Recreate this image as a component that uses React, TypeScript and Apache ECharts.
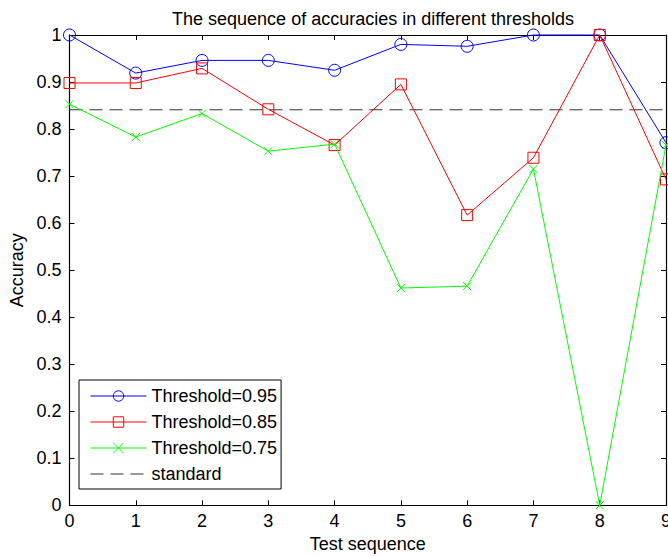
import React, { useEffect, useRef } from "react";
import * as echarts from "echarts";

const testSequence = [0, 1, 2, 3, 4, 5, 6, 7, 8, 9];
const threshold095 = [1.0, 0.919, 0.946, 0.946, 0.925, 0.98, 0.976, 1.0, 1.0, 0.771];
const threshold085 = [0.898, 0.898, 0.929, 0.842, 0.766, 0.895, 0.617, 0.739, 1.0, 0.693];
const threshold075 = [0.853, 0.783, 0.833, 0.753, 0.768, 0.462, 0.466, 0.715, 0.0, 0.766];
const standardValue = 0.841;

const FONT = "'Liberation Sans', Arial, Helvetica, sans-serif";
const FS = 18;

export default function App() {
  const ref = useRef<HTMLDivElement>(null);
  useEffect(() => {
    if (!ref.current) return;
    const chart = echarts.init(ref.current, undefined, { renderer: "svg" });
    const pairs = (ys: number[]) => testSequence.map((x, i) => [x, ys[i]]);
    const lineWidth = 1;
    const axisCommon = {
      axisLine: { show: true, onZero: false, lineStyle: { color: "#000", width: 1.2 } },
      axisTick: { show: true, inside: true, length: 5, lineStyle: { color: "#000" } },
      splitLine: { show: false },
    };
    chart.setOption({
      animation: false,
      backgroundColor: "#fff",
      textStyle: { fontFamily: FONT },
      title: {
        text: "The sequence of accuracies in different thresholds",
        left: 368,
        textAlign: "center",
        top: 5,
        textStyle: { fontFamily: FONT, fontSize: FS, fontWeight: "normal", color: "#000" },
      },
      grid: { left: 69.5, right: 2, top: 35, bottom: 50.7, containLabel: false, outerBoundsMode: "none" },
      legend: {
        orient: "vertical",
        left: 79,
        top: 380,
        itemWidth: 56,
        itemHeight: 13,
        itemGap: 8,
        padding: [7, 4, 6, 11],
        borderColor: "#000",
        borderWidth: 1,
        backgroundColor: "#fff",
        lineStyle: { width: 1 },
        itemStyle: { borderWidth: 1 },
        textStyle: { fontFamily: FONT, fontSize: FS, lineHeight: 18, color: "#000" },
        data: ["Threshold=0.95", "Threshold=0.85", "Threshold=0.75", "standard"],
      },
      xAxis: [
        {
          type: "value",
          min: 0,
          max: 9,
          interval: 1,
          position: "bottom",
          name: "Test sequence",
          nameLocation: "middle",
          nameGap: 30,
          nameTextStyle: { fontFamily: FONT, fontSize: FS, color: "#000" },
          axisLabel: { color: "#000", fontSize: FS, fontFamily: FONT, margin: 7 },
          ...axisCommon,
        },
        {
          type: "value",
          min: 0,
          max: 9,
          interval: 1,
          position: "top",
          axisLabel: { show: false },
          ...axisCommon,
        },
      ],
      yAxis: [
        {
          type: "value",
          min: 0,
          max: 1,
          interval: 0.1,
          position: "left",
          name: "Accuracy",
          nameLocation: "middle",
          nameGap: 37,
          nameTextStyle: { fontFamily: FONT, fontSize: FS, color: "#000" },
          axisLabel: {
            color: "#000",
            fontSize: FS,
            fontFamily: FONT,
            margin: 8,
            formatter: (v: number) => String(Math.round(v * 10) / 10),
          },
          ...axisCommon,
        },
        {
          type: "value",
          min: 0,
          max: 1,
          interval: 0.1,
          position: "right",
          axisLabel: { show: false },
          ...axisCommon,
        },
      ],
      series: [
        {
          name: "Threshold=0.95",
          type: "line",
          data: pairs(threshold095),
          symbol: "circle",
          symbolSize: 12,
          clip: false,
          lineStyle: { color: "#0000ff", width: lineWidth },
          itemStyle: { color: "rgba(0,0,0,0)", borderColor: "#0000ff", borderWidth: 1 },
          z: 3,
        },
        {
          name: "Threshold=0.85",
          type: "line",
          data: pairs(threshold085),
          symbol: "rect",
          symbolSize: 11,
          clip: false,
          lineStyle: { color: "#ff0000", width: lineWidth },
          itemStyle: { color: "rgba(0,0,0,0)", borderColor: "#ff0000", borderWidth: 1 },
          z: 4,
        },
        {
          name: "Threshold=0.75",
          type: "line",
          data: pairs(threshold075),
          symbol: "path://M0,0L10,10M10,0L0,10",
          symbolSize: 8,
          clip: false,
          lineStyle: { color: "#00ff00", width: lineWidth },
          itemStyle: { color: "rgba(0,0,0,0)", borderColor: "#00ff00", borderWidth: 1 },
          z: 5,
        },
        {
          name: "standard",
          type: "line",
          data: [
            [testSequence[0], standardValue],
            [testSequence[testSequence.length - 1], standardValue],
          ],
          symbol: "none",
          lineStyle: { color: "#333", width: 1, type: [13, 7] },
          itemStyle: { color: "rgba(0,0,0,0)", borderColor: "rgba(0,0,0,0)", borderWidth: 0 },
          z: 2,
        },
      ],
    });
    return () => chart.dispose();
  }, []);
  return <div ref={ref} style={{ width: 668, height: 556, position: "absolute", left: 0, top: 0 }} />;
}
